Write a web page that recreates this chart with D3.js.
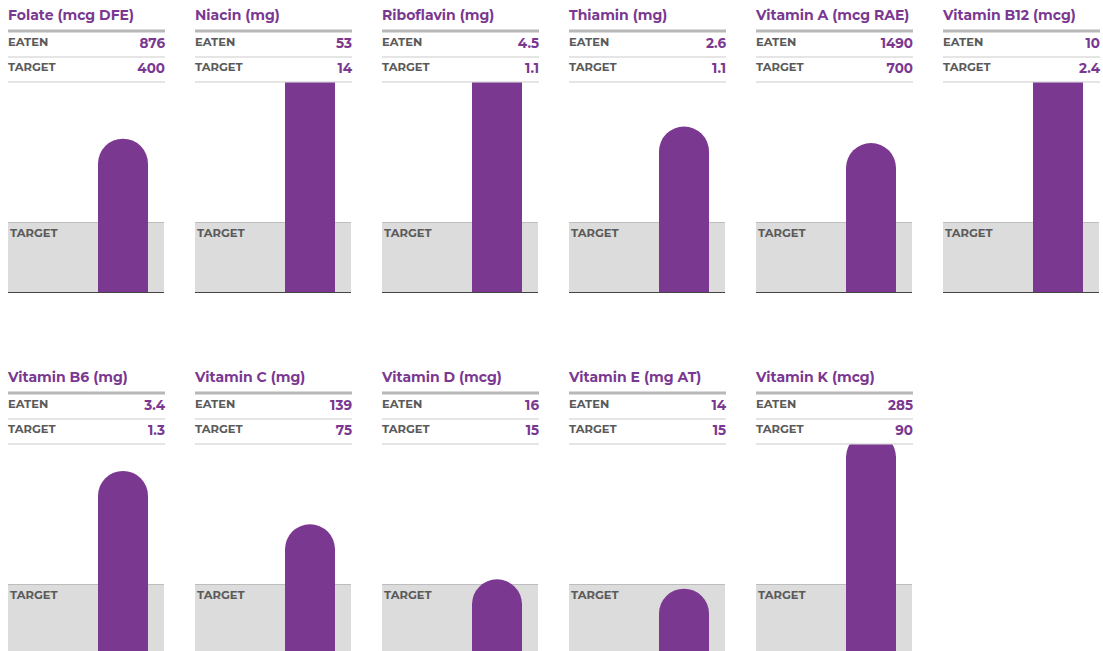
<!DOCTYPE html>
<html>
<head>
<meta charset="utf-8">
<script src="https://cdn.jsdelivr.net/npm/d3@7"></script>
<style>
  body { margin: 0; background: #fff; }
  svg { display: block; font-family: "Montserrat", "Noto Sans", "Open Sans", sans-serif; }
</style>
</head>
<body>
<div id="chart"></div>
<script>
// nutrient names, amounts eaten, daily targets
const nutrients = ['Folate (mcg DFE)', 'Niacin (mg)', 'Riboflavin (mg)', 'Thiamin (mg)', 'Vitamin A (mcg RAE)', 'Vitamin B12 (mcg)',
  'Vitamin B6 (mg)', 'Vitamin C (mg)', 'Vitamin D (mcg)', 'Vitamin E (mg AT)', 'Vitamin K (mcg)'];
const eaten = [876, 53, 4.5, 2.6, 1490, 10, 3.4, 139, 16, 14, 285];
const target = [400, 14, 1.1, 1.1, 700, 2.4, 1.3, 75, 15, 15, 90];
const eatenLabels = ['876', '53', '4.5', '2.6', '1490', '10', '3.4', '139', '16', '14', '285'];
const targetLabels = ['400', '14', '1.1', '1.1', '700', '2.4', '1.3', '75', '15', '15', '90'];

const W = 1103, H = 651;
const cols = 6;
const panelW = 156, stepX = 187, stepY = 362;
const plotTop = 82, plotH = 210;
const purple = '#7a3891';

const data = nutrients.map(function(d, i){
  return {name: d, eaten: eaten[i], target: target[i], eatenLabel: eatenLabels[i], targetLabel: targetLabels[i], ratio: eaten[i] / target[i]};
});

const svg = d3.select('#chart').append('svg')
  .attr('width', W).attr('height', H);

// ratio of eaten/target -> pixels; target sits at 1
const scaleY = d3.scaleLinear().domain([0, 3]).range([plotH, 0]);
const scaleX = d3.scaleBand().domain(['bar']).range([90, 140]).padding(0);

const panels = svg.selectAll('g.panel')
  .data(data)
  .join('g')
  .attr('class', 'panel')
  .attr('transform', function(d, i){ return `translate(${8 + (i % cols) * stepX}, ${Math.floor(i / cols) * stepY})`; });

panels.append('text')
  .attr('x', 0).attr('y', 20)
  .style('font-size', '14px').style('font-weight', 700)
  .style('fill', purple)
  .text(function(d){ return d.name; });

panels.append('line')
  .attr('x1', 0).attr('x2', panelW + 1)
  .attr('y1', 31).attr('y2', 31)
  .style('stroke', '#b8b8b8').style('stroke-width', 3);

[{label: 'EATEN', y: 46, key: 'eatenLabel', line: 57}, {label: 'TARGET', y: 71, key: 'targetLabel', line: 82}].forEach(function(r){
  panels.append('text')
    .attr('x', 0).attr('y', r.y)
    .style('font-size', '11.5px').style('font-weight', 700)
    .style('fill', '#5a5a5a')
    .text(r.label);
  panels.append('text')
    .attr('x', panelW + 1).attr('y', r.y + 2)
    .attr('text-anchor', 'end')
    .style('font-size', '13.5px').style('font-weight', 700)
    .style('fill', purple)
    .text(function(d){ return d[r.key]; });
  panels.append('line')
    .attr('x1', 0).attr('x2', panelW + 1)
    .attr('y1', r.line).attr('y2', r.line)
    .style('stroke', '#dcdcdc').style('stroke-width', 1.5);
});

const plot = panels.append('g')
  .attr('transform', `translate(0, ${plotTop})`);

plot.append('clipPath')
  .attr('id', function(d, i){ return 'clip' + i; })
  .append('rect')
  .attr('x', 0).attr('y', 0.5)
  .attr('width', panelW).attr('height', plotH);

// target band
plot.append('rect')
  .attr('x', 0).attr('y', scaleY(1))
  .attr('width', panelW).attr('height', plotH - scaleY(1))
  .style('fill', '#dcdcdc');

plot.append('line')
  .attr('x1', 0).attr('x2', panelW)
  .attr('y1', scaleY(1) + 0.5).attr('y2', scaleY(1) + 0.5)
  .style('stroke', '#bdbdbd');

plot.append('text')
  .attr('x', 2).attr('y', scaleY(1) + 15)
  .style('font-size', '11.5px').style('font-weight', 700)
  .style('fill', '#5a5a5a')
  .text('TARGET');

// bar with rounded top
plot.append('path')
  .attr('clip-path', function(d, i){ return 'url(#clip' + i + ')'; })
  .attr('d', function(d){
    const x0 = scaleX('bar'), bw = scaleX.bandwidth(), r = bw / 2;
    const yTop = scaleY(d.ratio);
    const p = d3.path();
    p.moveTo(x0, plotH);
    p.lineTo(x0, yTop + r);
    p.arc(x0 + r, yTop + r, r, Math.PI, 0);
    p.lineTo(x0 + bw, plotH);
    p.closePath();
    return p.toString();
  })
  .style('fill', purple);

plot.append('line')
  .attr('x1', 0).attr('x2', panelW)
  .attr('y1', plotH + 0.5).attr('y2', plotH + 0.5)
  .style('stroke', '#444');
</script>
</body>
</html>
